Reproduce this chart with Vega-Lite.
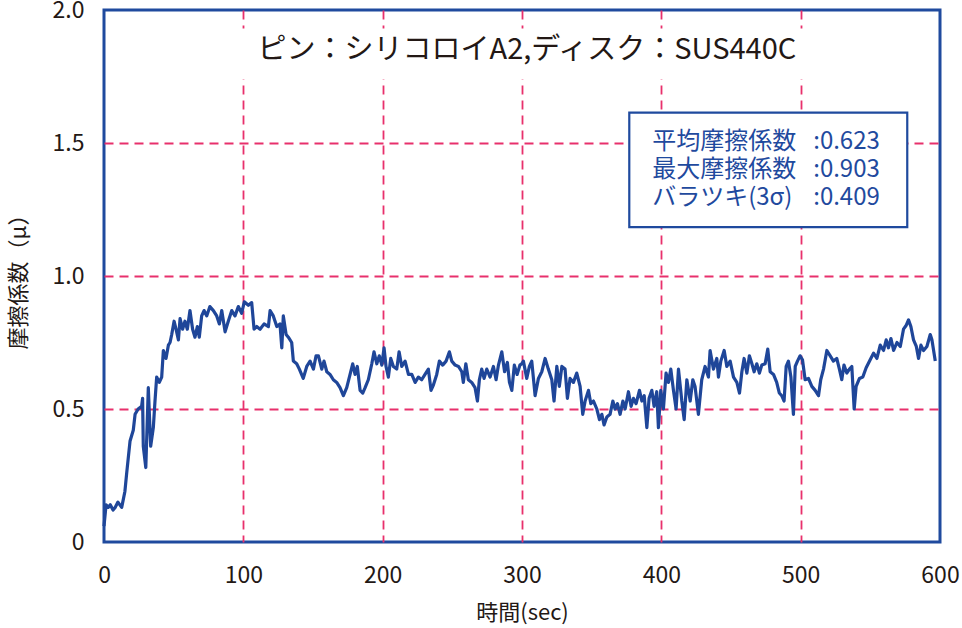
{
  "$schema": "https://vega.github.io/schema/vega-lite/v6.json",
  "width": 836,
  "height": 532,
  "autosize": {"type": "none"},
  "padding": {"left": 104, "top": 10, "right": 22, "bottom": 86},
  "background": "white",
  "config": {
    "view": {"stroke": "#1f4a9e", "strokeWidth": 3},
    "font": "Noto Sans CJK JP",
    "axis": {
      "domain": false,
      "ticks": false,
      "tickSize": 0,
      "labelFlush": false,
      "grid": true,
      "gridColor": "#e8306c",
      "gridDash": [9, 6],
      "gridWidth": 1.8,
      "labelFont": "Noto Sans CJK JP",
      "labelFontSize": 23,
      "labelColor": "#231815",
      "titleFont": "Noto Sans CJK JP",
      "titleFontSize": 22,
      "titleFontWeight": "normal",
      "titleColor": "#231815"
    }
  },
  "datasets": {
    "friction": [
      {"t": 0, "mu": 0.06}, {"t": 1.5, "mu": 0.14}, {"t": 3, "mu": 0.13}, {"t": 4.5, "mu": 0.14},
      {"t": 6.5, "mu": 0.12}, {"t": 8, "mu": 0.13}, {"t": 10, "mu": 0.15}, {"t": 12.7, "mu": 0.13},
      {"t": 15, "mu": 0.19}, {"t": 16.3, "mu": 0.26}, {"t": 18.7, "mu": 0.38}, {"t": 21, "mu": 0.42},
      {"t": 22.3, "mu": 0.48}, {"t": 24.5, "mu": 0.5}, {"t": 27, "mu": 0.51}, {"t": 27.7, "mu": 0.54},
      {"t": 28.2, "mu": 0.36}, {"t": 30, "mu": 0.28}, {"t": 31.8, "mu": 0.58}, {"t": 33.5, "mu": 0.36},
      {"t": 35.4, "mu": 0.43}, {"t": 36.6, "mu": 0.53}, {"t": 37.8, "mu": 0.62}, {"t": 39.7, "mu": 0.6},
      {"t": 41.4, "mu": 0.62}, {"t": 42.6, "mu": 0.72}, {"t": 44.5, "mu": 0.69}, {"t": 46.2, "mu": 0.74},
      {"t": 47.4, "mu": 0.75}, {"t": 48.6, "mu": 0.78}, {"t": 50.3, "mu": 0.83}, {"t": 51.7, "mu": 0.8},
      {"t": 53.4, "mu": 0.76}, {"t": 54.6, "mu": 0.84}, {"t": 56.4, "mu": 0.8}, {"t": 58.1, "mu": 0.83},
      {"t": 59.8, "mu": 0.8}, {"t": 61.7, "mu": 0.87}, {"t": 63.6, "mu": 0.8}, {"t": 65.3, "mu": 0.77},
      {"t": 67, "mu": 0.81}, {"t": 68.4, "mu": 0.77}, {"t": 70.1, "mu": 0.85}, {"t": 71.8, "mu": 0.87},
      {"t": 73.7, "mu": 0.85}, {"t": 76, "mu": 0.885}, {"t": 78.5, "mu": 0.87}, {"t": 80.9, "mu": 0.85},
      {"t": 82.8, "mu": 0.82}, {"t": 84.5, "mu": 0.87}, {"t": 86.9, "mu": 0.79}, {"t": 89.2, "mu": 0.83},
      {"t": 91.7, "mu": 0.87}, {"t": 94, "mu": 0.85}, {"t": 96.4, "mu": 0.885}, {"t": 98.8, "mu": 0.86},
      {"t": 100.7, "mu": 0.903}, {"t": 103.6, "mu": 0.89}, {"t": 106, "mu": 0.9}, {"t": 107.7, "mu": 0.8},
      {"t": 109.6, "mu": 0.81}, {"t": 112, "mu": 0.8}, {"t": 114.9, "mu": 0.82}, {"t": 118, "mu": 0.81},
      {"t": 119.2, "mu": 0.87}, {"t": 121.5, "mu": 0.85}, {"t": 124, "mu": 0.81}, {"t": 126.3, "mu": 0.82},
      {"t": 127.6, "mu": 0.73}, {"t": 128.7, "mu": 0.85}, {"t": 130.7, "mu": 0.78}, {"t": 132.3, "mu": 0.77},
      {"t": 134.7, "mu": 0.75}, {"t": 135.9, "mu": 0.68}, {"t": 138.3, "mu": 0.67}, {"t": 140.2, "mu": 0.65},
      {"t": 143, "mu": 0.615}, {"t": 145.5, "mu": 0.66}, {"t": 147.9, "mu": 0.68}, {"t": 150.3, "mu": 0.65},
      {"t": 152.2, "mu": 0.7}, {"t": 153.9, "mu": 0.7}, {"t": 156.3, "mu": 0.65}, {"t": 157.9, "mu": 0.68},
      {"t": 159.9, "mu": 0.64}, {"t": 162.2, "mu": 0.63}, {"t": 164.6, "mu": 0.61}, {"t": 167, "mu": 0.6},
      {"t": 169.4, "mu": 0.58}, {"t": 171.8, "mu": 0.55}, {"t": 174.2, "mu": 0.58}, {"t": 176.6, "mu": 0.63},
      {"t": 178.5, "mu": 0.67}, {"t": 180.2, "mu": 0.63}, {"t": 181.8, "mu": 0.66}, {"t": 183.8, "mu": 0.57},
      {"t": 185.7, "mu": 0.56}, {"t": 187.4, "mu": 0.58}, {"t": 189.7, "mu": 0.61}, {"t": 192.2, "mu": 0.67},
      {"t": 193.8, "mu": 0.715}, {"t": 195.8, "mu": 0.67}, {"t": 197.6, "mu": 0.7}, {"t": 199.4, "mu": 0.665},
      {"t": 201, "mu": 0.73}, {"t": 202.4, "mu": 0.66}, {"t": 204.1, "mu": 0.62}, {"t": 205.8, "mu": 0.69},
      {"t": 207.7, "mu": 0.66}, {"t": 210.1, "mu": 0.65}, {"t": 211.8, "mu": 0.715}, {"t": 213.7, "mu": 0.66},
      {"t": 216.1, "mu": 0.68}, {"t": 218.5, "mu": 0.63}, {"t": 220.9, "mu": 0.63}, {"t": 223.3, "mu": 0.6},
      {"t": 225.6, "mu": 0.62}, {"t": 228, "mu": 0.61}, {"t": 230.4, "mu": 0.63}, {"t": 232.8, "mu": 0.65},
      {"t": 234.7, "mu": 0.57}, {"t": 236.4, "mu": 0.59}, {"t": 238.8, "mu": 0.63}, {"t": 240.7, "mu": 0.68},
      {"t": 243.1, "mu": 0.665}, {"t": 245.5, "mu": 0.68}, {"t": 247.9, "mu": 0.715}, {"t": 249.6, "mu": 0.68},
      {"t": 252, "mu": 0.665}, {"t": 254.4, "mu": 0.66}, {"t": 256.8, "mu": 0.64}, {"t": 257.9, "mu": 0.6},
      {"t": 259.7, "mu": 0.67}, {"t": 261.5, "mu": 0.61}, {"t": 263.9, "mu": 0.6}, {"t": 266.3, "mu": 0.58},
      {"t": 268, "mu": 0.53}, {"t": 269.4, "mu": 0.61}, {"t": 271.1, "mu": 0.65}, {"t": 272.8, "mu": 0.615},
      {"t": 274.7, "mu": 0.65}, {"t": 277.1, "mu": 0.62}, {"t": 279.5, "mu": 0.66}, {"t": 281.4, "mu": 0.61},
      {"t": 283.1, "mu": 0.665}, {"t": 285.5, "mu": 0.715}, {"t": 287.5, "mu": 0.64}, {"t": 289.5, "mu": 0.675},
      {"t": 291, "mu": 0.6}, {"t": 292.7, "mu": 0.57}, {"t": 294.5, "mu": 0.665}, {"t": 296.5, "mu": 0.63},
      {"t": 298.5, "mu": 0.665}, {"t": 299.8, "mu": 0.67}, {"t": 301, "mu": 0.68}, {"t": 303.4, "mu": 0.615},
      {"t": 305.3, "mu": 0.66}, {"t": 307, "mu": 0.68}, {"t": 309.4, "mu": 0.55}, {"t": 311.8, "mu": 0.615},
      {"t": 314.2, "mu": 0.64}, {"t": 316.6, "mu": 0.69}, {"t": 318.9, "mu": 0.65}, {"t": 321.4, "mu": 0.61},
      {"t": 323, "mu": 0.53}, {"t": 325, "mu": 0.66}, {"t": 326.8, "mu": 0.585}, {"t": 328.6, "mu": 0.66},
      {"t": 330.9, "mu": 0.65}, {"t": 332.6, "mu": 0.54}, {"t": 334.5, "mu": 0.615}, {"t": 336.9, "mu": 0.6},
      {"t": 339.3, "mu": 0.635}, {"t": 341.7, "mu": 0.585}, {"t": 343.6, "mu": 0.48}, {"t": 345.3, "mu": 0.53},
      {"t": 347.7, "mu": 0.57}, {"t": 349.4, "mu": 0.52}, {"t": 351.3, "mu": 0.53}, {"t": 353.7, "mu": 0.5},
      {"t": 355.6, "mu": 0.46}, {"t": 357.3, "mu": 0.48}, {"t": 358.9, "mu": 0.44}, {"t": 360.9, "mu": 0.47},
      {"t": 363.2, "mu": 0.48}, {"t": 365.2, "mu": 0.53}, {"t": 366.8, "mu": 0.5}, {"t": 368.5, "mu": 0.52},
      {"t": 370.4, "mu": 0.48}, {"t": 372.4, "mu": 0.53}, {"t": 374, "mu": 0.5}, {"t": 376.4, "mu": 0.565},
      {"t": 378.3, "mu": 0.51}, {"t": 380, "mu": 0.54}, {"t": 381.9, "mu": 0.52}, {"t": 384.3, "mu": 0.57},
      {"t": 386, "mu": 0.53}, {"t": 387.7, "mu": 0.55}, {"t": 389.6, "mu": 0.43}, {"t": 391.2, "mu": 0.54},
      {"t": 393.2, "mu": 0.57}, {"t": 394.8, "mu": 0.51}, {"t": 396.7, "mu": 0.565}, {"t": 397.9, "mu": 0.43},
      {"t": 399.6, "mu": 0.57}, {"t": 401.5, "mu": 0.5}, {"t": 403.4, "mu": 0.635}, {"t": 405.1, "mu": 0.6},
      {"t": 406.8, "mu": 0.65}, {"t": 408.7, "mu": 0.57}, {"t": 410.6, "mu": 0.5}, {"t": 412.3, "mu": 0.65},
      {"t": 414.7, "mu": 0.53}, {"t": 416.4, "mu": 0.46}, {"t": 418.3, "mu": 0.61}, {"t": 420.7, "mu": 0.53},
      {"t": 422.6, "mu": 0.61}, {"t": 424.2, "mu": 0.585}, {"t": 426.6, "mu": 0.48}, {"t": 429, "mu": 0.61},
      {"t": 431.4, "mu": 0.66}, {"t": 433.8, "mu": 0.62}, {"t": 435, "mu": 0.72}, {"t": 437.4, "mu": 0.65},
      {"t": 439.8, "mu": 0.69}, {"t": 441, "mu": 0.62}, {"t": 442.7, "mu": 0.68}, {"t": 445.1, "mu": 0.72},
      {"t": 447, "mu": 0.66}, {"t": 449.4, "mu": 0.68}, {"t": 451.8, "mu": 0.62}, {"t": 454.2, "mu": 0.6},
      {"t": 456.1, "mu": 0.56}, {"t": 457.8, "mu": 0.64}, {"t": 459.4, "mu": 0.69}, {"t": 461.4, "mu": 0.635},
      {"t": 463.2, "mu": 0.7}, {"t": 465, "mu": 0.67}, {"t": 466.6, "mu": 0.64}, {"t": 468.5, "mu": 0.67},
      {"t": 470.4, "mu": 0.635}, {"t": 472.1, "mu": 0.665}, {"t": 474.5, "mu": 0.67}, {"t": 476.4, "mu": 0.725},
      {"t": 478.1, "mu": 0.64}, {"t": 480.5, "mu": 0.63}, {"t": 482.8, "mu": 0.6}, {"t": 484.7, "mu": 0.56},
      {"t": 486.4, "mu": 0.55}, {"t": 488.1, "mu": 0.53}, {"t": 489.6, "mu": 0.66}, {"t": 491.2, "mu": 0.68},
      {"t": 493, "mu": 0.62}, {"t": 494.8, "mu": 0.48}, {"t": 496.1, "mu": 0.66}, {"t": 497.7, "mu": 0.68},
      {"t": 499.6, "mu": 0.7}, {"t": 501.3, "mu": 0.685}, {"t": 503.2, "mu": 0.61}, {"t": 505.6, "mu": 0.615},
      {"t": 508, "mu": 0.585}, {"t": 510.4, "mu": 0.57}, {"t": 512.8, "mu": 0.55}, {"t": 514.4, "mu": 0.61},
      {"t": 516.4, "mu": 0.65}, {"t": 518.8, "mu": 0.72}, {"t": 521.2, "mu": 0.7}, {"t": 523.5, "mu": 0.68},
      {"t": 525.9, "mu": 0.69}, {"t": 527.8, "mu": 0.65}, {"t": 529.5, "mu": 0.61}, {"t": 531.1, "mu": 0.665},
      {"t": 533.1, "mu": 0.635}, {"t": 535, "mu": 0.65}, {"t": 536.7, "mu": 0.66}, {"t": 538.4, "mu": 0.5},
      {"t": 539.8, "mu": 0.585}, {"t": 542.2, "mu": 0.615}, {"t": 544.6, "mu": 0.62}, {"t": 547, "mu": 0.655},
      {"t": 549.9, "mu": 0.685}, {"t": 552.3, "mu": 0.71}, {"t": 554.7, "mu": 0.69}, {"t": 557.1, "mu": 0.74},
      {"t": 559.5, "mu": 0.72}, {"t": 561.4, "mu": 0.76}, {"t": 563, "mu": 0.73}, {"t": 564.8, "mu": 0.765},
      {"t": 566.7, "mu": 0.72}, {"t": 569.1, "mu": 0.75}, {"t": 571.5, "mu": 0.735}, {"t": 573.8, "mu": 0.8},
      {"t": 575.8, "mu": 0.815}, {"t": 577.4, "mu": 0.835}, {"t": 579.1, "mu": 0.81}, {"t": 581, "mu": 0.76},
      {"t": 583, "mu": 0.735}, {"t": 584.6, "mu": 0.69}, {"t": 586.3, "mu": 0.74}, {"t": 588.2, "mu": 0.72},
      {"t": 590.6, "mu": 0.735}, {"t": 593, "mu": 0.78}, {"t": 594.2, "mu": 0.76}, {"t": 596.6, "mu": 0.68}
    ]
  },
  "layer": [
    {
      "data": {"values": [{}]},
      "mark": {"type": "rect", "fill": "white", "stroke": null},
      "encoding": {
        "x": {
          "datum": 90,
          "type": "quantitative",
          "scale": {"domain": [0, 600], "nice": false, "zero": false},
          "axis": {
            "values": [0, 100, 200, 300, 400, 500, 600],
            "title": "時間(sec)",
            "labelPadding": 22,
            "titlePadding": 15,
            "gridOpacity": {"condition": {"test": "datum.value === 0 || datum.value === 600", "value": 0}, "value": 1}
          }
        },
        "x2": {"datum": 511},
        "y": {
          "datum": 1.74,
          "type": "quantitative",
          "scale": {"domain": [0, 2], "nice": false, "zero": false},
          "axis": {
            "values": [0, 0.5, 1, 1.5, 2],
            "labelExpr": "datum.value === 0 ? '0' : format(datum.value, '.1f')",
            "title": "摩擦係数（μ）",
            "labelPadding": 20,
            "titlePadding": 22,
            "gridOpacity": {"condition": {"test": "datum.value === 0 || datum.value === 2", "value": 0}, "value": 1}
          }
        },
        "y2": {"datum": 1.93}
      }
    },
    {
      "data": {"values": [{}]},
      "mark": {"type": "rect", "fill": "white", "stroke": "#1f4a9e", "strokeWidth": 2.2},
      "encoding": {
        "x": {"datum": 377, "type": "quantitative"},
        "x2": {"datum": 576.5},
        "y": {"datum": 1.184, "type": "quantitative"},
        "y2": {"datum": 1.614}
      }
    },
    {
      "data": {"name": "friction"},
      "mark": {"type": "line", "color": "#1f4699", "strokeWidth": 3.2, "strokeJoin": "round"},
      "encoding": {
        "x": {"field": "t", "type": "quantitative"},
        "y": {"field": "mu", "type": "quantitative"}
      }
    },
    {
      "data": {"values": [{}]},
      "mark": {"type": "text", "fontSize": 29, "color": "#231815", "align": "center", "baseline": "middle"},
      "encoding": {
        "x": {"datum": 303.5, "type": "quantitative"},
        "y": {"datum": 1.85, "type": "quantitative"},
        "text": {"value": "ピン：シリコロイA2,ディスク：SUS440C"}
      }
    },
    {
      "data": {"values": [{}]},
      "mark": {"type": "text", "fontSize": 24, "color": "#1f4a9e", "align": "left", "baseline": "middle", "lineHeight": 28.4},
      "encoding": {
        "x": {"datum": 393.4, "type": "quantitative"},
        "y": {"datum": 1.505, "type": "quantitative"},
        "text": {"value": ["平均摩擦係数", "最大摩擦係数", "バラツキ(3σ)"]}
      }
    },
    {
      "data": {"values": [{}]},
      "mark": {"type": "text", "fontSize": 24, "color": "#1f4a9e", "align": "left", "baseline": "middle", "lineHeight": 28.4},
      "encoding": {
        "x": {"datum": 509, "type": "quantitative"},
        "y": {"datum": 1.505, "type": "quantitative"},
        "text": {"value": [":0.623", ":0.903", ":0.409"]}
      }
    }
  ]
}
